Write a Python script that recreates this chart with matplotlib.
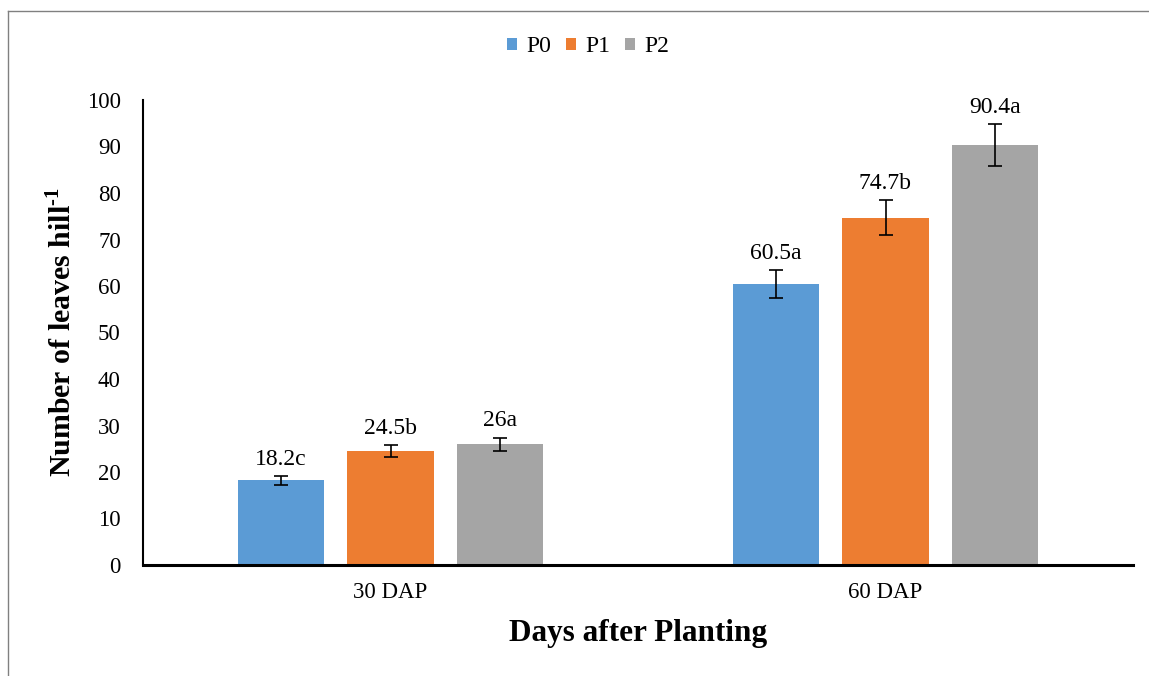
import matplotlib
matplotlib.use("Agg")
import matplotlib.pyplot as plt
import numpy as np
from matplotlib.lines import Line2D

plt.rcParams['font.family'] = ['Liberation Serif', 'DejaVu Serif']
plt.rcParams['mathtext.fontset'] = 'custom'
plt.rcParams['mathtext.rm'] = 'Liberation Serif:bold'
plt.rcParams['mathtext.bf'] = 'Liberation Serif:bold'

categories = ['30 DAP', '60 DAP']
series = ['P0', 'P1', 'P2']
values = {'P0': [18.2, 60.5], 'P1': [24.5, 74.7], 'P2': [26.0, 90.4]}
errors = {'P0': [1.0, 3.0], 'P1': [1.2, 3.7], 'P2': [1.4, 4.5]}
labels = {'P0': ['18.2c', '60.5a'], 'P1': ['24.5b', '74.7b'], 'P2': ['26a', '90.4a']}
colors = {'P0': '#5B9BD5', 'P1': '#ED7D31', 'P2': '#A5A5A5'}

fig = plt.figure(figsize=(11.49, 6.76), dpi=100)
ax = fig.add_axes([143/1149, 1-565/676, (1133-143)/1149, (565-100)/676])

x = np.arange(len(categories))
bw = 0.174
step = 0.222
for i, s in enumerate(series):
    pos = x + (i - 1) * step
    ax.bar(pos, values[s], width=bw, color=colors[s], label=s, zorder=2)
    ax.errorbar(pos, values[s], yerr=errors[s], fmt='none', ecolor='black',
                elinewidth=1.2, capsize=5, capthick=1.2, zorder=3)
    for p, v, e, t in zip(pos, values[s], errors[s], labels[s]):
        ax.annotate(t, (p, v + e), xytext=(0, 8), textcoords='offset points',
                    ha='center', va='baseline', fontsize=17)

ax.set_xlim(-0.5, 1.5)
ax.set_ylim(0, 100)
ax.set_yticks(np.arange(0, 101, 10))
ax.set_xticks(x)
ax.set_xticklabels(categories)
ax.tick_params(axis='both', length=0, labelsize=16.5)
ax.tick_params(axis='y', pad=16)
ax.tick_params(axis='x', pad=12)
for sp in ['top', 'right']:
    ax.spines[sp].set_visible(False)
ax.spines['left'].set_linewidth(1.5)
ax.spines['bottom'].set_linewidth(2.2)

ax.set_xlabel('Days after Planting', fontsize=22.5, fontweight='bold', labelpad=12)
ax.set_ylabel(r'Number of leaves hill$^{\text{-1}}$', fontsize=21.5, fontweight='bold', labelpad=7)

leg = fig.legend(loc='center', bbox_to_anchor=(588/1149, 1-47/676), ncol=3, frameon=False,
                 fontsize=17, handlelength=0.4, handleheight=0.4, handletextpad=0.4,
                 columnspacing=0.64)

# chart border (top and left lines)
fig.add_artist(Line2D([8/1149, 1.0], [1-11/676, 1-11/676], color='#808080', lw=1.0))
fig.add_artist(Line2D([8/1149, 8/1149], [1-11/676, 0.0], color='#808080', lw=1.0))

fig.savefig('out.png', dpi=100)
